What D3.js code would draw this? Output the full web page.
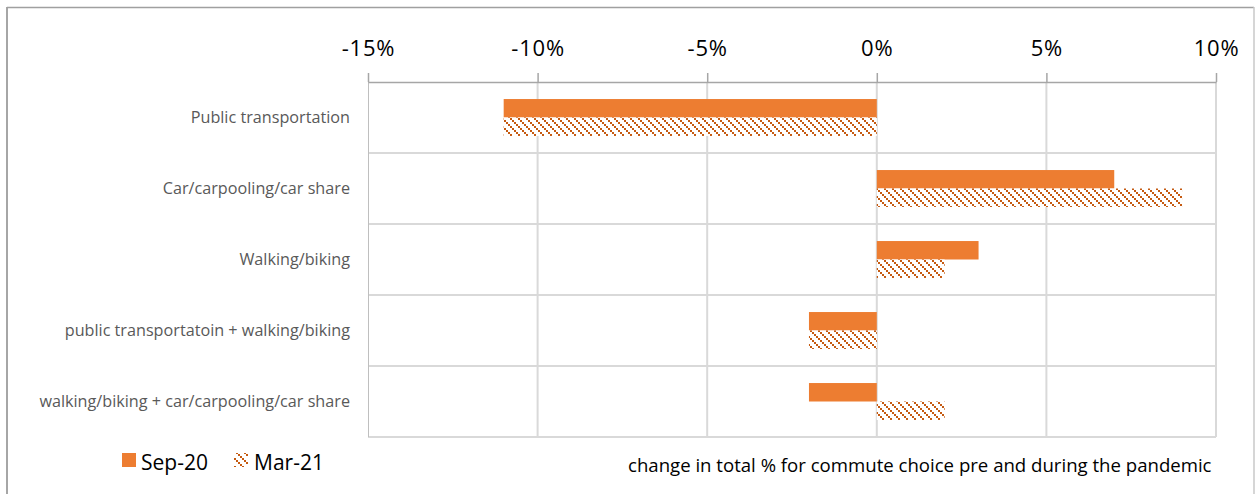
<!DOCTYPE html>
<html>
<head>
<meta charset="utf-8">
<script src="https://cdn.jsdelivr.net/npm/d3@7"></script>
<style>
  html, body { margin: 0; padding: 0; background: #fff; }
  svg { display: block; }
</style>
</head>
<body>
<svg id="chart" width="1255" height="494"></svg>
<script>
const categories = [
  "Public transportation",
  "Car/carpooling/car share",
  "Walking/biking",
  "public transportatoin + walking/biking",
  "walking/biking + car/carpooling/car share"
];
const seriesNames = ["Sep-20", "Mar-21"];
const sep20 = [-11, 7, 3, -2, -2];
const mar21 = [-11, 9, 2, -2, 2];
const tickValues = [-15, -10, -5, 0, 5, 10];
const tickLabels = ["-15%", "-10%", "-5%", "0%", "5%", "10%"];
const noteText = "change in total % for commute choice pre and during the pandemic";

const svg = d3.select("#chart");
const W = 1255, H = 494;
const plot = { left: 368, right: 1216, top: 82, bottom: 437 };
const orange = "#ed7d31";
const hatchColor = "#c55a11";
const font = "'Open Sans', Lato, sans-serif";

// hatch pattern
const defs = svg.append("defs");
const pat = defs.append("pattern")
  .attr("id", "hatch")
  .attr("patternUnits", "userSpaceOnUse")
  .attr("width", 8).attr("height", 8);
pat.append("rect").attr("width", 8).attr("height", 8).attr("fill", "#fff");
[0, 2, 4, 6].forEach(i => {
  pat.append("rect").attr("x", i).attr("y", i).attr("width", 2).attr("height", 2).attr("fill", hatchColor);
});

// outer border
svg.append("line").attr("x1", 7).attr("x2", 7).attr("y1", 7).attr("y2", H).attr("stroke", "#a6a6a6").attr("stroke-width", 2);
svg.append("line").attr("x1", 7).attr("x2", 1254).attr("y1", 7.5).attr("y2", 7.5).attr("stroke", "#a0a0a0").attr("stroke-width", 1.5);
svg.append("line").attr("x1", 1254).attr("x2", 1254).attr("y1", 7).attr("y2", H).attr("stroke", "#c8c8c8").attr("stroke-width", 1.5);

const x = d3.scaleLinear().domain([-15, 10]).range([plot.left, plot.right]);
const y = d3.scaleBand().domain(categories).range([plot.top, plot.bottom]).paddingInner(0.48).paddingOuter(0.24);
const ySub = d3.scaleBand().domain(seriesNames).range([0, y.bandwidth()]);

// horizontal gridlines (category separators)
const bandStep = y.step();
const sepYs = d3.range(1, categories.length + 1).map(i => plot.top + i * bandStep);
svg.append("g").selectAll("line").data(sepYs).join("line")
  .attr("x1", plot.left).attr("x2", plot.right)
  .attr("y1", d => d).attr("y2", d => d)
  .attr("stroke", "#d9d9d9").attr("stroke-width", 2);

// vertical gridlines
svg.append("g").selectAll("line").data(tickValues.slice(1)).join("line")
  .attr("x1", d => x(d)).attr("x2", d => x(d))
  .attr("y1", plot.top).attr("y2", plot.bottom)
  .attr("stroke", "#d9d9d9").attr("stroke-width", 2);

// left category axis line
svg.append("line").attr("x1", plot.left + 0.5).attr("x2", plot.left + 0.5)
  .attr("y1", plot.top).attr("y2", plot.bottom).attr("stroke", "#bfbfbf").attr("stroke-width", 1);

// bars
const rows = categories.map((c, i) => ({ c, vals: [sep20[i], mar21[i]] }));
const gBars = svg.append("g");
rows.forEach(r => {
  r.vals.forEach((v, j) => {
    gBars.append("rect")
      .attr("x", x(Math.min(0, v)))
      .attr("y", y(r.c) + ySub(seriesNames[j]))
      .attr("width", Math.abs(x(v) - x(0)))
      .attr("height", ySub.bandwidth())
      .attr("fill", j === 0 ? orange : "url(#hatch)");
  });
});

// top value axis
const axis = d3.axisTop(x).tickValues(tickValues)
  .tickFormat((d, i) => tickLabels[i]).tickSize(9).tickPadding(17).tickSizeOuter(0);
const gAx = svg.append("g").attr("transform", `translate(0,${plot.top})`).call(axis);
gAx.select(".domain").attr("stroke", "#a6a6a6").attr("stroke-width", 1.5);
gAx.selectAll(".tick line").attr("stroke", "#a6a6a6").attr("stroke-width", 1.5);
gAx.selectAll(".tick text").attr("font-family", font).attr("font-size", 22)
  .attr("letter-spacing", 0.8).attr("fill", "#000");

// category labels
svg.append("g").selectAll("text").data(categories).join("text")
  .attr("x", 350).attr("y", d => y(d) + y.bandwidth() / 2)
  .attr("dy", "0.35em").attr("text-anchor", "end")
  .attr("font-family", font).attr("font-size", 16.2).attr("fill", "#595959")
  .text(d => d);

// legend
const lg = svg.append("g").attr("font-family", font).attr("font-size", 21).attr("fill", "#000");
lg.append("rect").attr("x", 122).attr("y", 453).attr("width", 14).attr("height", 14).attr("fill", orange);
lg.append("text").attr("x", 141).attr("y", 463).attr("dy", "0.35em").text(seriesNames[0]);
lg.append("rect").attr("x", 234).attr("y", 453).attr("width", 14).attr("height", 14).attr("fill", "url(#hatch)");
lg.append("text").attr("x", 254).attr("y", 463).attr("dy", "0.35em").text(seriesNames[1]);

// note
svg.append("text").attr("x", 628).attr("y", 465).attr("dy", "0.35em")
  .attr("font-family", font).attr("font-size", 18.6).attr("fill", "#000")
  .text(noteText);
</script>
</body>
</html>
